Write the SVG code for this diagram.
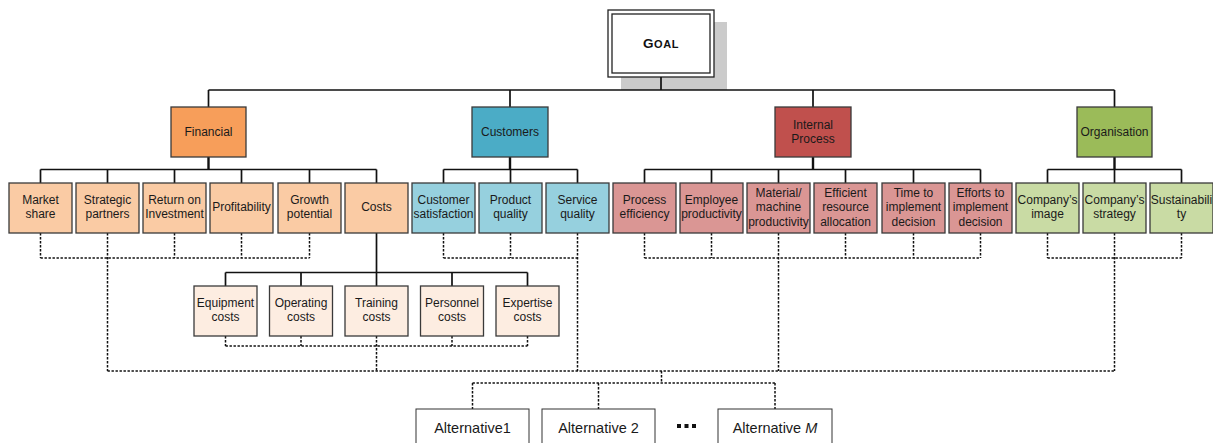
<svg xmlns="http://www.w3.org/2000/svg" width="1213" height="443" viewBox="0 0 1213 443">
  <defs>
    <style>
      .t { font-family: "Liberation Sans", Arial, sans-serif; font-size: 12px; fill: #1a1a1a; text-anchor: middle; }
      .alt { font-family: "Liberation Sans", Arial, sans-serif; font-size: 14.5px; fill: #1a1a1a; text-anchor: middle; }
      .box { stroke: #3a3a3a; stroke-width: 1.3; }
      .fin-h { fill: #F79E5A; }
      .fin { fill: #FACBA4; }
      .cost { fill: #FDEDE1; }
      .cus-h { fill: #4BACC6; }
      .cus { fill: #96D0DE; }
      .int-h { fill: #C0504D; }
      .int { fill: #DA9694; }
      .org-h { fill: #9BBB59; }
      .org { fill: #C9DBA4; }
      .solid { fill: none; stroke: #111; stroke-width: 1.7; }
      .drop { fill: none; stroke: #111; stroke-width: 2.4; }
      .dot { fill: none; stroke: #111; stroke-width: 1.5; stroke-dasharray: 2.4 1.6; }
    </style>
  </defs>
  <rect width="1213" height="443" fill="#ffffff"/>

  <!-- Goal -->
  <g id="goal">
    <rect x="621" y="22" width="106" height="68" fill="#cbcbcb"/>
    <rect x="608" y="10" width="106" height="67" fill="#ffffff" stroke="#222" stroke-width="1.3"/>
    <rect x="612" y="14" width="98" height="59" fill="none" stroke="#222" stroke-width="1.3"/>
    <text x="661" y="47.5" font-family="Liberation Sans, Arial, sans-serif" font-weight="bold" text-anchor="middle" fill="#111" letter-spacing="0.6"><tspan font-size="13.5">G</tspan><tspan font-size="11">OAL</tspan></text>
  </g>

  <!-- Connectors -->
  <g id="connectors">
    <!-- goal to perspectives -->
    <path class="solid" d="M661 77V90M208.5 90H1114.5M208.5 90V107M510 90V107M813 90V107M1114.5 90V107"/>
    <!-- Financial -->
    <path class="drop" d="M208.5 157V169.5"/>
    <path class="solid" d="M40.5 169.5H376.5M40.5 169.5V183M107.5 169.5V183M174.5 169.5V183M241.5 169.5V183M309.5 169.5V183M376.5 169.5V183"/>
    <!-- Customers -->
    <path class="drop" d="M510 157V169.5"/>
    <path class="solid" d="M443.5 169.5H577.5M443.5 169.5V183M510.5 169.5V183M577.5 169.5V183"/>
    <!-- Internal Process -->
    <path class="drop" d="M813 157V169.5"/>
    <path class="solid" d="M644.5 169.5H980.5M644.5 169.5V183M711.5 169.5V183M778.5 169.5V183M845.5 169.5V183M913.5 169.5V183M980.5 169.5V183"/>
    <!-- Organisation -->
    <path class="drop" d="M1114.5 157V169.5"/>
    <path class="solid" d="M1047.5 169.5H1181.5M1047.5 169.5V183M1114.5 169.5V183M1181.5 169.5V183"/>
    <!-- Costs breakdown -->
    <path class="solid" d="M376.5 233V286M225.5 272.5H527.5M225.5 272.5V286M301 272.5V286M452 272.5V286M527.5 272.5V286"/>

    <!-- criteria to alternatives -->
    <path class="dot" d="M40.5 233V258M107.5 233V371M174.5 233V258M241.5 233V258M309.5 233V258M40.5 258H309.5"/>
    <path class="dot" d="M443.5 233V258M510.5 233V258M577.5 233V371M443.5 258H577.5"/>
    <path class="dot" d="M644.5 233V258M711.5 233V258M778.5 233V371M845.5 233V258M913.5 233V258M980.5 233V258M644.5 258H980.5"/>
    <path class="dot" d="M1047.5 233V258M1114.5 233V371M1181.5 233V258M1047.5 258H1181.5"/>
    <path class="dot" d="M225.5 336V346M301 336V346M376.5 336V371M452 336V346M527.5 336V346M225.5 346H527.5"/>
    <path class="dot" d="M107.5 371H1114.5M661.5 371V383M472.5 383H775M472.5 383V409M598.5 383V409M775 383V409"/>
  </g>

  <!-- Perspectives -->
  <g id="financial"><rect class="box fin-h" x="171" y="107" width="75" height="50"/><text class="t" x="208.5" y="136">Financial</text></g>
  <g id="customers"><rect class="box cus-h" x="472" y="107" width="76" height="50"/><text class="t" x="510" y="136">Customers</text></g>
  <g id="internal-process"><rect class="box int-h" x="775" y="107" width="76" height="50"/><text class="t" x="813" y="129">Internal</text><text class="t" x="813" y="143">Process</text></g>
  <g id="organisation"><rect class="box org-h" x="1077" y="107" width="75" height="50"/><text class="t" x="1114.5" y="136">Organisation</text></g>

  <!-- Financial criteria -->
  <g id="market-share"><rect class="box fin" x="9" y="183" width="63" height="50"/><text class="t" x="40.5" y="204">Market</text><text class="t" x="40.5" y="218">share</text></g>
  <g id="strategic-partners"><rect class="box fin" x="76" y="183" width="63" height="50"/><text class="t" x="107.5" y="204">Strategic</text><text class="t" x="107.5" y="218">partners</text></g>
  <g id="return-on-investment"><rect class="box fin" x="143" y="183" width="63" height="50"/><text class="t" x="174.5" y="204">Return on</text><text class="t" x="174.5" y="218">Investment</text></g>
  <g id="profitability"><rect class="box fin" x="210" y="183" width="63" height="50"/><text class="t" x="241.5" y="211">Profitability</text></g>
  <g id="growth-potential"><rect class="box fin" x="278" y="183" width="63" height="50"/><text class="t" x="309.5" y="204">Growth</text><text class="t" x="309.5" y="218">potential</text></g>
  <g id="costs"><rect class="box fin" x="345" y="183" width="63" height="50"/><text class="t" x="376.5" y="211">Costs</text></g>

  <!-- Customer criteria -->
  <g id="customer-satisfaction"><rect class="box cus" x="412" y="183" width="63" height="50"/><text class="t" x="443.5" y="204">Customer</text><text class="t" x="443.5" y="218">satisfaction</text></g>
  <g id="product-quality"><rect class="box cus" x="479" y="183" width="63" height="50"/><text class="t" x="510.5" y="204">Product</text><text class="t" x="510.5" y="218">quality</text></g>
  <g id="service-quality"><rect class="box cus" x="546" y="183" width="63" height="50"/><text class="t" x="577.5" y="204">Service</text><text class="t" x="577.5" y="218">quality</text></g>

  <!-- Internal process criteria -->
  <g id="process-efficiency"><rect class="box int" x="613" y="183" width="63" height="50"/><text class="t" x="644.5" y="204">Process</text><text class="t" x="644.5" y="218">efficiency</text></g>
  <g id="employee-productivity"><rect class="box int" x="680" y="183" width="63" height="50"/><text class="t" x="711.5" y="204">Employee</text><text class="t" x="711.5" y="218">productivity</text></g>
  <g id="machine-productivity"><rect class="box int" x="747" y="183" width="63" height="50"/><text class="t" x="778.5" y="196.5">Material/</text><text class="t" x="778.5" y="211">machine</text><text class="t" x="778.5" y="225.5">productivity</text></g>
  <g id="resource-allocation"><rect class="box int" x="814" y="183" width="63" height="50"/><text class="t" x="845.5" y="196.5">Efficient</text><text class="t" x="845.5" y="211">resource</text><text class="t" x="845.5" y="225.5">allocation</text></g>
  <g id="time-to-implement"><rect class="box int" x="882" y="183" width="63" height="50"/><text class="t" x="913.5" y="196.5">Time to</text><text class="t" x="913.5" y="211">implement</text><text class="t" x="913.5" y="225.5">decision</text></g>
  <g id="efforts-to-implement"><rect class="box int" x="949" y="183" width="63" height="50"/><text class="t" x="980.5" y="196.5">Efforts to</text><text class="t" x="980.5" y="211">implement</text><text class="t" x="980.5" y="225.5">decision</text></g>

  <!-- Organisation criteria -->
  <g id="company-image"><rect class="box org" x="1016" y="183" width="63" height="50"/><text class="t" x="1047.5" y="204">Company’s</text><text class="t" x="1047.5" y="218">image</text></g>
  <g id="company-strategy"><rect class="box org" x="1083" y="183" width="63" height="50"/><text class="t" x="1114.5" y="204">Company’s</text><text class="t" x="1114.5" y="218">strategy</text></g>
  <g id="sustainability"><rect class="box org" x="1150" y="183" width="63" height="50"/><text class="t" x="1181.5" y="204">Sustainabili</text><text class="t" x="1181.5" y="218">ty</text></g>

  <!-- Cost breakdown -->
  <g id="equipment-costs"><rect class="box cost" x="194" y="286" width="63" height="50"/><text class="t" x="225.5" y="307">Equipment</text><text class="t" x="225.5" y="321">costs</text></g>
  <g id="operating-costs"><rect class="box cost" x="269.5" y="286" width="63" height="50"/><text class="t" x="301" y="307">Operating</text><text class="t" x="301" y="321">costs</text></g>
  <g id="training-costs"><rect class="box cost" x="345" y="286" width="63" height="50"/><text class="t" x="376.5" y="307">Training</text><text class="t" x="376.5" y="321">costs</text></g>
  <g id="personnel-costs"><rect class="box cost" x="420.5" y="286" width="63" height="50"/><text class="t" x="452" y="307">Personnel</text><text class="t" x="452" y="321">costs</text></g>
  <g id="expertise-costs"><rect class="box cost" x="496" y="286" width="63" height="50"/><text class="t" x="527.5" y="307">Expertise</text><text class="t" x="527.5" y="321">costs</text></g>

  <!-- Alternatives -->
  <g id="alternative-1"><rect x="416" y="409" width="113" height="45" fill="#fff" stroke="#333" stroke-width="1"/><text class="alt" x="472.5" y="433">Alternative1</text></g>
  <g id="alternative-2"><rect x="542" y="409" width="113" height="45" fill="#fff" stroke="#333" stroke-width="1"/><text class="alt" x="598.5" y="433">Alternative 2</text></g>
  <g id="ellipsis" fill="#111"><rect x="677" y="424" width="4" height="4"/><rect x="684.5" y="424" width="4" height="4"/><rect x="692" y="424" width="4" height="4"/></g>
  <g id="alternative-m"><rect x="718" y="409" width="114" height="45" fill="#fff" stroke="#333" stroke-width="1"/><text class="alt" x="775" y="433">Alternative <tspan font-style="italic">M</tspan></text></g>
</svg>
